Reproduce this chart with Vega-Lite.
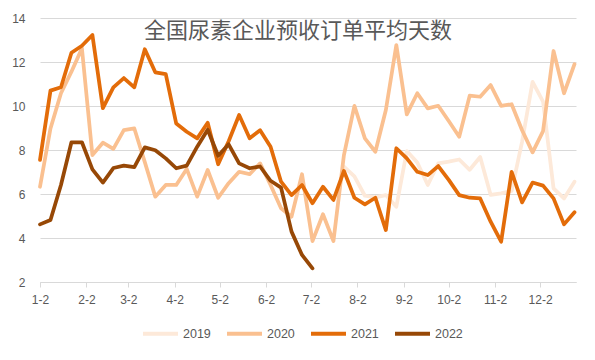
{
  "$schema": "https://vega.github.io/schema/vega-lite/v6.json",
  "width": 536,
  "height": 264,
  "autosize": {"type": "none"},
  "padding": {"left": 40, "top": 18, "right": 19, "bottom": 78},
  "background": "white",
  "title": {
    "text": "全国尿素企业预收订单平均天数",
    "font": "Noto Sans CJK SC",
    "fontSize": 22,
    "fontWeight": "normal",
    "color": "#595959",
    "anchor": "middle",
    "frame": "group",
    "orient": "top",
    "baseline": "top",
    "offset": 0,
    "dy": 31,
    "dx": -10
  },
  "config": {
    "view": {"stroke": null},
    "font": "Liberation Sans"
  },
  "datasets": {
    "series": [
      {"date": "2021-07-24T00:00:00", "year": "2019", "value": 7.24},
      {"date": "2021-07-31T00:00:00", "year": "2019", "value": 6.8},
      {"date": "2021-08-07T00:00:00", "year": "2019", "value": 5.92},
      {"date": "2021-08-14T00:00:00", "year": "2019", "value": 5.85},
      {"date": "2021-08-21T00:00:00", "year": "2019", "value": 5.95},
      {"date": "2021-08-28T00:00:00", "year": "2019", "value": 5.42},
      {"date": "2021-09-04T00:00:00", "year": "2019", "value": 7.95},
      {"date": "2021-09-11T00:00:00", "year": "2019", "value": 7.43},
      {"date": "2021-09-18T00:00:00", "year": "2019", "value": 6.41},
      {"date": "2021-09-25T00:00:00", "year": "2019", "value": 7.39},
      {"date": "2021-10-02T00:00:00", "year": "2019", "value": 7.47},
      {"date": "2021-10-09T00:00:00", "year": "2019", "value": 7.57},
      {"date": "2021-10-16T00:00:00", "year": "2019", "value": 7.1},
      {"date": "2021-10-23T00:00:00", "year": "2019", "value": 7.68},
      {"date": "2021-10-30T00:00:00", "year": "2019", "value": 5.96},
      {"date": "2021-11-06T00:00:00", "year": "2019", "value": 6.03},
      {"date": "2021-11-13T00:00:00", "year": "2019", "value": 6.14},
      {"date": "2021-11-20T00:00:00", "year": "2019", "value": 8.38},
      {"date": "2021-11-27T00:00:00", "year": "2019", "value": 11.1},
      {"date": "2021-12-04T00:00:00", "year": "2019", "value": 10.2},
      {"date": "2021-12-11T00:00:00", "year": "2019", "value": 6.26},
      {"date": "2021-12-18T00:00:00", "year": "2019", "value": 5.8},
      {"date": "2021-12-25T00:00:00", "year": "2019", "value": 6.56},

      {"date": "2021-01-02T00:00:00", "year": "2020", "value": 6.33},
      {"date": "2021-01-09T00:00:00", "year": "2020", "value": 8.98},
      {"date": "2021-01-16T00:00:00", "year": "2020", "value": 10.58},
      {"date": "2021-01-23T00:00:00", "year": "2020", "value": 11.56},
      {"date": "2021-01-30T00:00:00", "year": "2020", "value": 12.62},
      {"date": "2021-02-06T00:00:00", "year": "2020", "value": 7.77},
      {"date": "2021-02-13T00:00:00", "year": "2020", "value": 8.33},
      {"date": "2021-02-20T00:00:00", "year": "2020", "value": 8.05},
      {"date": "2021-02-27T00:00:00", "year": "2020", "value": 8.9},
      {"date": "2021-03-06T00:00:00", "year": "2020", "value": 8.98},
      {"date": "2021-03-13T00:00:00", "year": "2020", "value": 7.45},
      {"date": "2021-03-20T00:00:00", "year": "2020", "value": 5.88},
      {"date": "2021-03-27T00:00:00", "year": "2020", "value": 6.41},
      {"date": "2021-04-03T00:00:00", "year": "2020", "value": 6.41},
      {"date": "2021-04-10T00:00:00", "year": "2020", "value": 7.14},
      {"date": "2021-04-17T00:00:00", "year": "2020", "value": 5.88},
      {"date": "2021-04-24T00:00:00", "year": "2020", "value": 7.09},
      {"date": "2021-05-01T00:00:00", "year": "2020", "value": 5.83},
      {"date": "2021-05-08T00:00:00", "year": "2020", "value": 6.49},
      {"date": "2021-05-15T00:00:00", "year": "2020", "value": 7.01},
      {"date": "2021-05-22T00:00:00", "year": "2020", "value": 6.9},
      {"date": "2021-05-29T00:00:00", "year": "2020", "value": 7.39},
      {"date": "2021-06-05T00:00:00", "year": "2020", "value": 6.41},
      {"date": "2021-06-12T00:00:00", "year": "2020", "value": 5.35},
      {"date": "2021-06-19T00:00:00", "year": "2020", "value": 4.97},
      {"date": "2021-06-26T00:00:00", "year": "2020", "value": 6.9},
      {"date": "2021-07-03T00:00:00", "year": "2020", "value": 3.86},
      {"date": "2021-07-10T00:00:00", "year": "2020", "value": 5.08},
      {"date": "2021-07-17T00:00:00", "year": "2020", "value": 3.86},
      {"date": "2021-07-24T00:00:00", "year": "2020", "value": 7.77},
      {"date": "2021-07-31T00:00:00", "year": "2020", "value": 10.01},
      {"date": "2021-08-07T00:00:00", "year": "2020", "value": 8.53},
      {"date": "2021-08-14T00:00:00", "year": "2020", "value": 7.92},
      {"date": "2021-08-21T00:00:00", "year": "2020", "value": 9.82},
      {"date": "2021-08-28T00:00:00", "year": "2020", "value": 12.77},
      {"date": "2021-09-04T00:00:00", "year": "2020", "value": 9.62},
      {"date": "2021-09-11T00:00:00", "year": "2020", "value": 10.58},
      {"date": "2021-09-18T00:00:00", "year": "2020", "value": 9.89},
      {"date": "2021-09-25T00:00:00", "year": "2020", "value": 10.01},
      {"date": "2021-10-02T00:00:00", "year": "2020", "value": 9.32},
      {"date": "2021-10-09T00:00:00", "year": "2020", "value": 8.6},
      {"date": "2021-10-16T00:00:00", "year": "2020", "value": 10.47},
      {"date": "2021-10-23T00:00:00", "year": "2020", "value": 10.42},
      {"date": "2021-10-30T00:00:00", "year": "2020", "value": 10.95},
      {"date": "2021-11-06T00:00:00", "year": "2020", "value": 10.01},
      {"date": "2021-11-13T00:00:00", "year": "2020", "value": 10.08},
      {"date": "2021-11-20T00:00:00", "year": "2020", "value": 8.9},
      {"date": "2021-11-27T00:00:00", "year": "2020", "value": 7.89},
      {"date": "2021-12-04T00:00:00", "year": "2020", "value": 8.86},
      {"date": "2021-12-11T00:00:00", "year": "2020", "value": 12.5},
      {"date": "2021-12-18T00:00:00", "year": "2020", "value": 10.58},
      {"date": "2021-12-25T00:00:00", "year": "2020", "value": 11.9},

      {"date": "2021-01-02T00:00:00", "year": "2021", "value": 7.55},
      {"date": "2021-01-09T00:00:00", "year": "2021", "value": 10.7},
      {"date": "2021-01-16T00:00:00", "year": "2021", "value": 10.85},
      {"date": "2021-01-23T00:00:00", "year": "2021", "value": 12.42},
      {"date": "2021-01-30T00:00:00", "year": "2021", "value": 12.74},
      {"date": "2021-02-06T00:00:00", "year": "2021", "value": 13.23},
      {"date": "2021-02-13T00:00:00", "year": "2021", "value": 9.9},
      {"date": "2021-02-20T00:00:00", "year": "2021", "value": 10.85},
      {"date": "2021-02-27T00:00:00", "year": "2021", "value": 11.27},
      {"date": "2021-03-06T00:00:00", "year": "2021", "value": 10.85},
      {"date": "2021-03-13T00:00:00", "year": "2021", "value": 12.58},
      {"date": "2021-03-20T00:00:00", "year": "2021", "value": 11.53},
      {"date": "2021-03-27T00:00:00", "year": "2021", "value": 11.45},
      {"date": "2021-04-03T00:00:00", "year": "2021", "value": 9.2},
      {"date": "2021-04-10T00:00:00", "year": "2021", "value": 8.83},
      {"date": "2021-04-17T00:00:00", "year": "2021", "value": 8.53},
      {"date": "2021-04-24T00:00:00", "year": "2021", "value": 9.24},
      {"date": "2021-05-01T00:00:00", "year": "2021", "value": 7.35},
      {"date": "2021-05-08T00:00:00", "year": "2021", "value": 8.4},
      {"date": "2021-05-15T00:00:00", "year": "2021", "value": 9.59},
      {"date": "2021-05-22T00:00:00", "year": "2021", "value": 8.53},
      {"date": "2021-05-29T00:00:00", "year": "2021", "value": 8.9},
      {"date": "2021-06-05T00:00:00", "year": "2021", "value": 8.15},
      {"date": "2021-06-12T00:00:00", "year": "2021", "value": 6.56},
      {"date": "2021-06-19T00:00:00", "year": "2021", "value": 5.95},
      {"date": "2021-06-26T00:00:00", "year": "2021", "value": 6.41},
      {"date": "2021-07-03T00:00:00", "year": "2021", "value": 5.58},
      {"date": "2021-07-10T00:00:00", "year": "2021", "value": 6.33},
      {"date": "2021-07-17T00:00:00", "year": "2021", "value": 5.73},
      {"date": "2021-07-24T00:00:00", "year": "2021", "value": 7.05},
      {"date": "2021-07-31T00:00:00", "year": "2021", "value": 5.83},
      {"date": "2021-08-07T00:00:00", "year": "2021", "value": 5.53},
      {"date": "2021-08-14T00:00:00", "year": "2021", "value": 5.83},
      {"date": "2021-08-21T00:00:00", "year": "2021", "value": 4.36},
      {"date": "2021-08-28T00:00:00", "year": "2021", "value": 8.08},
      {"date": "2021-09-04T00:00:00", "year": "2021", "value": 7.62},
      {"date": "2021-09-11T00:00:00", "year": "2021", "value": 7.01},
      {"date": "2021-09-18T00:00:00", "year": "2021", "value": 6.86},
      {"date": "2021-09-25T00:00:00", "year": "2021", "value": 7.27},
      {"date": "2021-10-02T00:00:00", "year": "2021", "value": 6.64},
      {"date": "2021-10-09T00:00:00", "year": "2021", "value": 5.95},
      {"date": "2021-10-16T00:00:00", "year": "2021", "value": 5.83},
      {"date": "2021-10-23T00:00:00", "year": "2021", "value": 5.8},
      {"date": "2021-10-30T00:00:00", "year": "2021", "value": 4.74},
      {"date": "2021-11-06T00:00:00", "year": "2021", "value": 3.83},
      {"date": "2021-11-13T00:00:00", "year": "2021", "value": 7.01},
      {"date": "2021-11-20T00:00:00", "year": "2021", "value": 5.62},
      {"date": "2021-11-27T00:00:00", "year": "2021", "value": 6.52},
      {"date": "2021-12-04T00:00:00", "year": "2021", "value": 6.38},
      {"date": "2021-12-11T00:00:00", "year": "2021", "value": 5.8},
      {"date": "2021-12-18T00:00:00", "year": "2021", "value": 4.62},
      {"date": "2021-12-25T00:00:00", "year": "2021", "value": 5.17},

      {"date": "2021-01-02T00:00:00", "year": "2022", "value": 4.62},
      {"date": "2021-01-09T00:00:00", "year": "2022", "value": 4.82},
      {"date": "2021-01-16T00:00:00", "year": "2022", "value": 6.41},
      {"date": "2021-01-23T00:00:00", "year": "2022", "value": 8.35},
      {"date": "2021-01-30T00:00:00", "year": "2022", "value": 8.35},
      {"date": "2021-02-06T00:00:00", "year": "2022", "value": 7.12},
      {"date": "2021-02-13T00:00:00", "year": "2022", "value": 6.52},
      {"date": "2021-02-20T00:00:00", "year": "2022", "value": 7.18},
      {"date": "2021-02-27T00:00:00", "year": "2022", "value": 7.29},
      {"date": "2021-03-06T00:00:00", "year": "2022", "value": 7.22},
      {"date": "2021-03-13T00:00:00", "year": "2022", "value": 8.12},
      {"date": "2021-03-20T00:00:00", "year": "2022", "value": 7.99},
      {"date": "2021-03-27T00:00:00", "year": "2022", "value": 7.62},
      {"date": "2021-04-03T00:00:00", "year": "2022", "value": 7.17},
      {"date": "2021-04-10T00:00:00", "year": "2022", "value": 7.29},
      {"date": "2021-04-17T00:00:00", "year": "2022", "value": 8.15},
      {"date": "2021-04-24T00:00:00", "year": "2022", "value": 8.92},
      {"date": "2021-05-01T00:00:00", "year": "2022", "value": 7.74},
      {"date": "2021-05-08T00:00:00", "year": "2022", "value": 8.26},
      {"date": "2021-05-15T00:00:00", "year": "2022", "value": 7.39},
      {"date": "2021-05-22T00:00:00", "year": "2022", "value": 7.17},
      {"date": "2021-05-29T00:00:00", "year": "2022", "value": 7.25},
      {"date": "2021-06-05T00:00:00", "year": "2022", "value": 6.6},
      {"date": "2021-06-12T00:00:00", "year": "2022", "value": 6.29},
      {"date": "2021-06-19T00:00:00", "year": "2022", "value": 4.29},
      {"date": "2021-06-26T00:00:00", "year": "2022", "value": 3.23},
      {"date": "2021-07-03T00:00:00", "year": "2022", "value": 2.62}
    ]
  },
  "data": {"name": "series"},
  "mark": {"type": "line", "strokeWidth": 3.75, "strokeJoin": "round", "strokeCap": "round"},
  "encoding": {
    "x": {
      "field": "date",
      "type": "temporal",
      "scale": {"domain": [{"year": 2021, "month": 1, "date": 2}, {"year": 2021, "month": 12, "date": 26}]},
      "axis": {
        "title": null,
        "grid": false,
        "values": [
          {"year": 2021, "month": 1, "date": 2},
          {"year": 2021, "month": 2, "date": 2},
          {"year": 2021, "month": 3, "date": 2},
          {"year": 2021, "month": 4, "date": 2},
          {"year": 2021, "month": 5, "date": 2},
          {"year": 2021, "month": 6, "date": 2},
          {"year": 2021, "month": 7, "date": 2},
          {"year": 2021, "month": 8, "date": 2},
          {"year": 2021, "month": 9, "date": 2},
          {"year": 2021, "month": 10, "date": 2},
          {"year": 2021, "month": 11, "date": 2},
          {"year": 2021, "month": 12, "date": 2}
        ],
        "format": "%-m-%-d",
        "labelFont": "Liberation Sans",
        "labelFontSize": 12,
        "labelColor": "#595959",
        "labelPadding": 7,
        "labelFlush": false,
        "labelOverlap": false,
        "domainColor": "#D9D9D9",
        "tickColor": "#D9D9D9",
        "tickSize": 5
      }
    },
    "y": {
      "field": "value",
      "type": "quantitative",
      "scale": {"domain": [2, 14], "nice": false},
      "axis": {
        "title": null,
        "values": [2, 4, 6, 8, 10, 12, 14],
        "domain": false,
        "ticks": false,
        "labelPadding": 15,
        "labelFont": "Liberation Sans",
        "labelFontSize": 12,
        "labelColor": "#595959",
        "gridColor": "#D9D9D9",
        "gridWidth": 1
      }
    },
    "color": {
      "field": "year",
      "type": "nominal",
      "scale": {
        "domain": ["2019", "2020", "2021", "2022"],
        "range": ["#FDE9D9", "#FAC090", "#E36C09", "#974806"]
      },
      "legend": {
        "title": null,
        "orient": "none",
        "legendX": 101,
        "legendY": 296,
        "direction": "horizontal",
        "symbolType": "stroke",
        "symbolSize": 1225,
        "symbolStrokeWidth": 4,
        "labelFont": "Liberation Sans",
        "labelFontSize": 12.5,
        "labelColor": "#595959",
        "labelOffset": 3,
        "columnPadding": 8
      }
    }
  }
}
